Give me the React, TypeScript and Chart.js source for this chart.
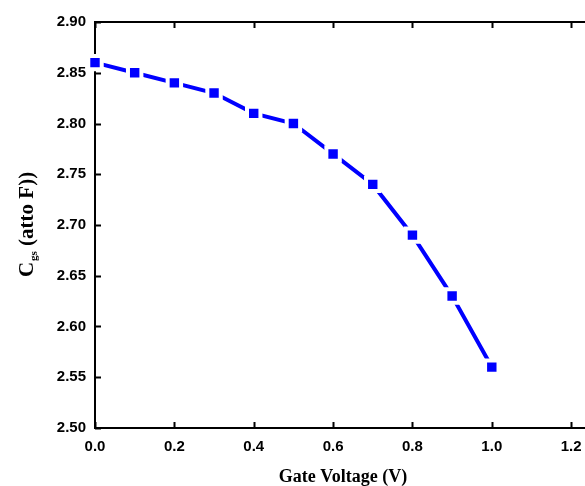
import React, { useEffect, useRef } from "react";
import { Chart, registerables } from "chart.js";

Chart.register(...registerables);

const gateVoltage = [0.0, 0.1, 0.2, 0.3, 0.4, 0.5, 0.6, 0.7, 0.8, 0.9, 1.0];
const cgs = [2.86, 2.85, 2.84, 2.83, 2.81, 2.8, 2.77, 2.74, 2.69, 2.63, 2.56];
const xTicks = [0.0, 0.2, 0.4, 0.6, 0.8, 1.0, 1.2];
const yTicks = [2.5, 2.55, 2.6, 2.65, 2.7, 2.75, 2.8, 2.85, 2.9];

const frame = {
  id: "frame",
  beforeDatasetsDraw(chart: any) {
    const { ctx, chartArea: a, scales } = chart;
    const x = scales.x, y = scales.y;
    ctx.save();
    ctx.strokeStyle = "#000";
    ctx.lineWidth = 2;
    ctx.beginPath();
    ctx.moveTo(a.left, a.top);
    ctx.lineTo(a.right, a.top);
    ctx.lineTo(a.right, a.bottom);
    ctx.lineTo(a.left, a.bottom);
    ctx.closePath();
    ctx.stroke();
    const tl = 6;
    ctx.beginPath();
    for (const v of xTicks) {
      const px = Math.round(x.getPixelForValue(v)) + 0.5;
      ctx.moveTo(px, a.bottom);
      ctx.lineTo(px, a.bottom - tl);
      ctx.moveTo(px, a.top);
      ctx.lineTo(px, a.top + tl);
    }
    for (const v of yTicks) {
      const py = Math.round(y.getPixelForValue(v)) + 0.5;
      ctx.moveTo(a.left, py);
      ctx.lineTo(a.left + tl, py);
      ctx.moveTo(a.right, py);
      ctx.lineTo(a.right - tl, py);
    }
    ctx.stroke();
    ctx.restore();
  },
  afterDraw(chart: any) {
    const { ctx, chartArea: a } = chart;
    ctx.save();
    ctx.fillStyle = "#000";
    // x title
    ctx.font = "bold 18px 'Liberation Serif'";
    ctx.textAlign = "center";
    ctx.textBaseline = "alphabetic";
    ctx.fillText("Gate Voltage (V)", 343, 482);
    // y title
    ctx.translate(33, (a.top + a.bottom) / 2);
    ctx.rotate(-Math.PI / 2);
    const big = "bold 21px 'Liberation Serif'";
    const small = "bold 11px 'Liberation Serif'";
    ctx.font = big;
    const wC = ctx.measureText("C").width;
    const rest = " (atto F))";
    const wR = ctx.measureText(rest).width;
    ctx.font = small;
    const wS = ctx.measureText("gs").width;
    const total = wC + wS + wR;
    let cx = -total / 2;
    ctx.textAlign = "left";
    ctx.font = big;
    ctx.fillText("C", cx, 0);
    cx += wC + 1;
    ctx.font = small;
    ctx.fillText("gs", cx, 4);
    cx += wS;
    ctx.font = big;
    ctx.fillText(rest, cx, 0);
    ctx.restore();
  },
};

export default function App() {
  const ref = useRef<HTMLCanvasElement>(null);
  useEffect(() => {
    if (!ref.current) return;
    const chart = new Chart(ref.current, {
      type: "line",
      data: {
        datasets: [
          {
            data: gateVoltage.map((v, i) => ({ x: v, y: cgs[i] })),
            borderColor: "#0000FF",
            backgroundColor: "#0000FF",
            borderWidth: 4,
            pointStyle: "rect",
            pointRadius: 9.5,
            pointHoverRadius: 9.5,
            pointBorderWidth: 4,
            pointBorderColor: "#FFFFFF",
            pointBackgroundColor: "#0000FF",
            clip: false,
          } as any,
        ],
      },
      options: {
        responsive: false,
        animation: false,
        layout: { padding: { left: 0, top: 22, right: 14, bottom: 0 } },
        plugins: { legend: { display: false }, tooltip: { enabled: false } },
        scales: {
          x: {
            type: "linear",
            min: 0,
            max: 1.25,
            grid: { display: false, drawTicks: false },
            border: { display: false },
            afterBuildTicks: (s: any) => {
              s.ticks = xTicks.map((v) => ({ value: v }));
            },
            afterFit: (s: any) => {
              s.height = 58;
            },
            ticks: {
              padding: 10,
              color: "#000",
              font: { family: "'Liberation Sans'", size: 15, weight: "bold" },
              maxRotation: 0,
              callback: (v: any) => Number(v).toFixed(1),
            },
          },
          y: {
            type: "linear",
            min: 2.5,
            max: 2.9,
            grid: { display: false, drawTicks: false },
            border: { display: false },
            afterBuildTicks: (s: any) => {
              s.ticks = yTicks.map((v) => ({ value: v }));
            },
            afterFit: (s: any) => {
              s.width = 95;
            },
            ticks: {
              padding: 9,
              color: "#000",
              font: { family: "'Liberation Sans'", size: 15, weight: "bold" },
              callback: (v: any) => Number(v).toFixed(2),
            },
          },
        },
      },
      plugins: [frame],
    });
    return () => chart.destroy();
  }, []);
  return (
    <div
      style={{
        position: "absolute",
        left: 0,
        top: 0,
        width: 585,
        height: 486,
        overflow: "hidden",
        background: "#fff",
      }}
    >
      <canvas ref={ref} width={605} height={486} style={{ display: "block" }} />
    </div>
  );
}
